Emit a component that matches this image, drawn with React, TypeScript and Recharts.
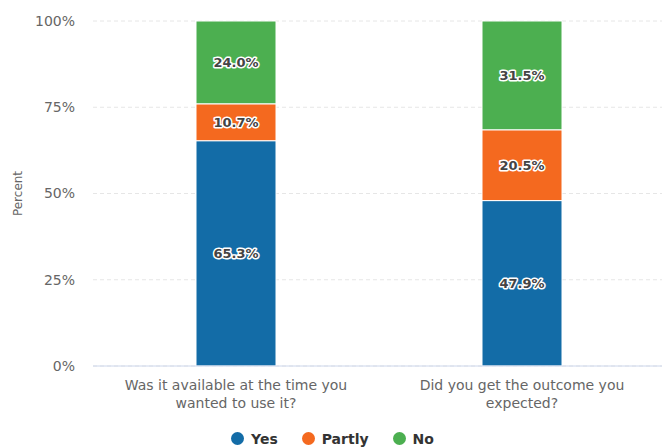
import { BarChart, Bar, XAxis, YAxis, CartesianGrid, Legend, LabelList } from "recharts";

const categories = [
  "Was it available at the time you wanted to use it?",
  "Did you get the outcome you expected?",
];
const categoryLines = [
  ["Was it available at the time you", "wanted to use it?"],
  ["Did you get the outcome you", "expected?"],
];
const yesValues = [65.3, 47.9];
const partlyValues = [10.7, 20.5];
const noValues = [24.0, 31.5];
const yTicks = [0, 0.25, 0.5, 0.75, 1];

const series = [
  { key: "yes", name: "Yes", color: "#136ca7" },
  { key: "partly", name: "Partly", color: "#f4691f" },
  { key: "no", name: "No", color: "#4caf50" },
];

const data = categories.map((c, i) => ({
  name: c,
  yes: yesValues[i],
  partly: partlyValues[i],
  no: noValues[i],
}));

const FONT = "'DejaVu Sans', Verdana, sans-serif";

const CategoryTick = (props: any) => {
  const { x, y, index } = props;
  const lines = categoryLines[index] || [];
  return (
    <g>
      {lines.map((ln, i) => (
        <text
          key={i}
          x={x}
          y={y + 16 + i * 18}
          textAnchor="middle"
          fill="#666"
          fontSize={14}
          fontFamily={FONT}
        >
          {ln}
        </text>
      ))}
    </g>
  );
};

const LegendContent = () => (
  <div
    style={{
      display: "flex",
      justifyContent: "center",
      alignItems: "center",
      gap: 24,
      fontFamily: FONT,
      fontSize: 14,
      fontWeight: "bold",
      color: "#333",
      height: 17,
      paddingTop: 14,
    }}
  >
    {series.map((s) => (
      <div key={s.key} style={{ display: "flex", alignItems: "center" }}>
        <span
          style={{
            width: 13,
            height: 13,
            borderRadius: 7,
            background: s.color,
            display: "inline-block",
            marginRight: 7,
          }}
        />
        {s.name}
      </div>
    ))}
  </div>
);

const fmt = (v: any) => Number(v).toFixed(1) + "%";

export default function App() {
  return (
    <div style={{ position: "absolute", left: 0, top: 0, background: "#fff" }}>
      <BarChart
        width={662}
        height={447}
        data={data}
        stackOffset="expand"
        margin={{ top: 21, right: -3, bottom: 0, left: 0 }}
        style={{ fontFamily: FONT }}
      >
        <CartesianGrid vertical={false} stroke="#e6e6e6" strokeDasharray="4 3" />
        <XAxis
          dataKey="name"
          height={50}
          tickLine={false}
          axisLine={{ stroke: "#ccd6eb" }}
          tick={<CategoryTick />}
          interval={0}
        />
        <YAxis
          width={93}
          domain={[0, 1]}
          ticks={yTicks}
          tickFormatter={(v) => Math.round(v * 100) + "%"}
          axisLine={false}
          tickLine={false}
          tickSize={0}
          tickMargin={18}
          tick={{ fill: "#666", fontSize: 14, fontFamily: FONT }}
          label={{
            value: "Percent",
            angle: -90,
            position: "insideLeft",
            offset: 18,
            textAnchor: "middle",
            fill: "#666",
            fontSize: 12,
            fontFamily: FONT,
          }}
        />
        <Legend verticalAlign="bottom" height={31} content={<LegendContent />} />
        {series.map((s) => (
          <Bar
            key={s.key}
            dataKey={s.key}
            name={s.name}
            stackId="a"
            fill={s.color}
            stroke="#fff"
            strokeWidth={1}
            barSize={80}
            isAnimationActive={false}
          >
            <LabelList
              dataKey={s.key}
              position="center"
              formatter={fmt}
              fill="#444"
              fontSize={13}
              fontWeight="bold"
              fontFamily={FONT}
              style={{ paintOrder: "stroke", stroke: "#fff", strokeWidth: 3, strokeLinejoin: "round" }}
            />
          </Bar>
        ))}
      </BarChart>
    </div>
  );
}
